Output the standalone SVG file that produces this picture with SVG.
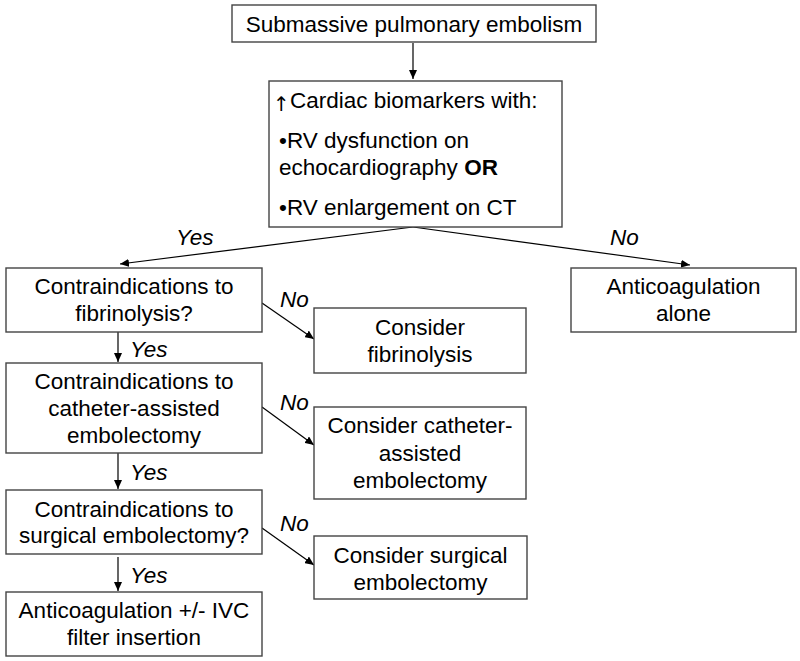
<svg xmlns="http://www.w3.org/2000/svg" width="800" height="661" viewBox="0 0 800 661">
<defs>
<marker id="ah" markerUnits="userSpaceOnUse" markerWidth="10" markerHeight="8" refX="9" refY="4" orient="auto">
<path d="M0,0 L9,4 L0,8 Z" fill="#000"/>
</marker>
<style>
.box{fill:#fff;stroke:#444;stroke-width:1.4}
.t{font-family:"Liberation Sans",Arial,sans-serif;font-size:22.5px;fill:#000}
.c{text-anchor:middle}
.lbl{font-family:"Liberation Sans",Arial,sans-serif;font-size:22.5px;font-style:italic;fill:#000}
.cn{stroke:#000;stroke-width:1.2;fill:none;marker-end:url(#ah)}
</style>
</defs>
<rect width="800" height="661" fill="#fff"/>
<g id="connectors">
<line class="cn" x1="413" y1="43" x2="413" y2="79"/>
<line class="cn" x1="413" y1="227" x2="120" y2="264"/>
<line class="cn" x1="413" y1="227" x2="690" y2="265"/>
<line class="cn" x1="118" y1="332" x2="118" y2="362"/>
<line class="cn" x1="118" y1="453" x2="118" y2="489"/>
<line class="cn" x1="118" y1="557" x2="118" y2="591"/>
<line class="cn" x1="262" y1="303" x2="314" y2="339"/>
<line class="cn" x1="262" y1="407" x2="314" y2="445"/>
<line class="cn" x1="262" y1="528" x2="314" y2="565"/>
<text class="lbl" x="176" y="245">Yes</text>
<text class="lbl" x="610" y="245">No</text>
<text class="lbl" x="130" y="357">Yes</text>
<text class="lbl" x="130" y="480">Yes</text>
<text class="lbl" x="130" y="583">Yes</text>
<text class="lbl" x="280" y="307">No</text>
<text class="lbl" x="280" y="410">No</text>
<text class="lbl" x="280" y="531">No</text>
</g>
<g id="n-spe">
<rect class="box" x="232" y="5" width="364" height="37"/>
<text class="t c" x="414" y="32">Submassive pulmonary embolism</text>
</g>
<g id="n-criteria">
<rect class="box" x="269" y="81" width="293" height="146"/>
<text class="t" x="273" y="111"><tspan font-family="'DejaVu Sans', sans-serif" font-size="20px">↑</tspan><tspan x="290" y="108">Cardiac biomarkers with:</tspan></text>
<text class="t" x="279" y="148">•RV dysfunction on</text>
<text class="t" x="279" y="175">echocardiography <tspan font-weight="bold">OR</tspan></text>
<text class="t" x="279" y="215">•RV enlargement on CT</text>
</g>
<g id="n-ci-fib">
<rect class="box" x="6" y="268" width="256" height="64"/>
<text class="t c" x="134" y="294">Contraindications to</text>
<text class="t c" x="134" y="321">fibrinolysis?</text>
</g>
<g id="n-anticoag-alone">
<rect class="box" x="571" y="268" width="225" height="64"/>
<text class="t c" x="683.5" y="294">Anticoagulation</text>
<text class="t c" x="683.5" y="321">alone</text>
</g>
<g id="n-fib">
<rect class="box" x="314" y="308" width="212" height="65"/>
<text class="t c" x="420" y="335">Consider</text>
<text class="t c" x="420" y="362">fibrinolysis</text>
</g>
<g id="n-ci-cath">
<rect class="box" x="6" y="363" width="256" height="90"/>
<text class="t c" x="134" y="389">Contraindications to</text>
<text class="t c" x="134" y="416">catheter-assisted</text>
<text class="t c" x="134" y="443">embolectomy</text>
</g>
<g id="n-cath">
<rect class="box" x="314" y="407" width="212" height="92"/>
<text class="t c" x="420" y="433">Consider catheter-</text>
<text class="t c" x="420" y="461">assisted</text>
<text class="t c" x="420" y="488">embolectomy</text>
</g>
<g id="n-ci-surg">
<rect class="box" x="6" y="490" width="256" height="64"/>
<text class="t c" x="134" y="517">Contraindications to</text>
<text class="t c" x="134" y="543">surgical embolectomy?</text>
</g>
<g id="n-surg">
<rect class="box" x="314" y="536" width="213" height="63"/>
<text class="t c" x="420.5" y="563">Consider surgical</text>
<text class="t c" x="420.5" y="590">embolectomy</text>
</g>
<g id="n-ivc">
<rect class="box" x="6" y="592" width="256" height="64"/>
<text class="t c" x="134" y="618">Anticoagulation +/- IVC</text>
<text class="t c" x="134" y="645">filter insertion</text>
</g>
</svg>
